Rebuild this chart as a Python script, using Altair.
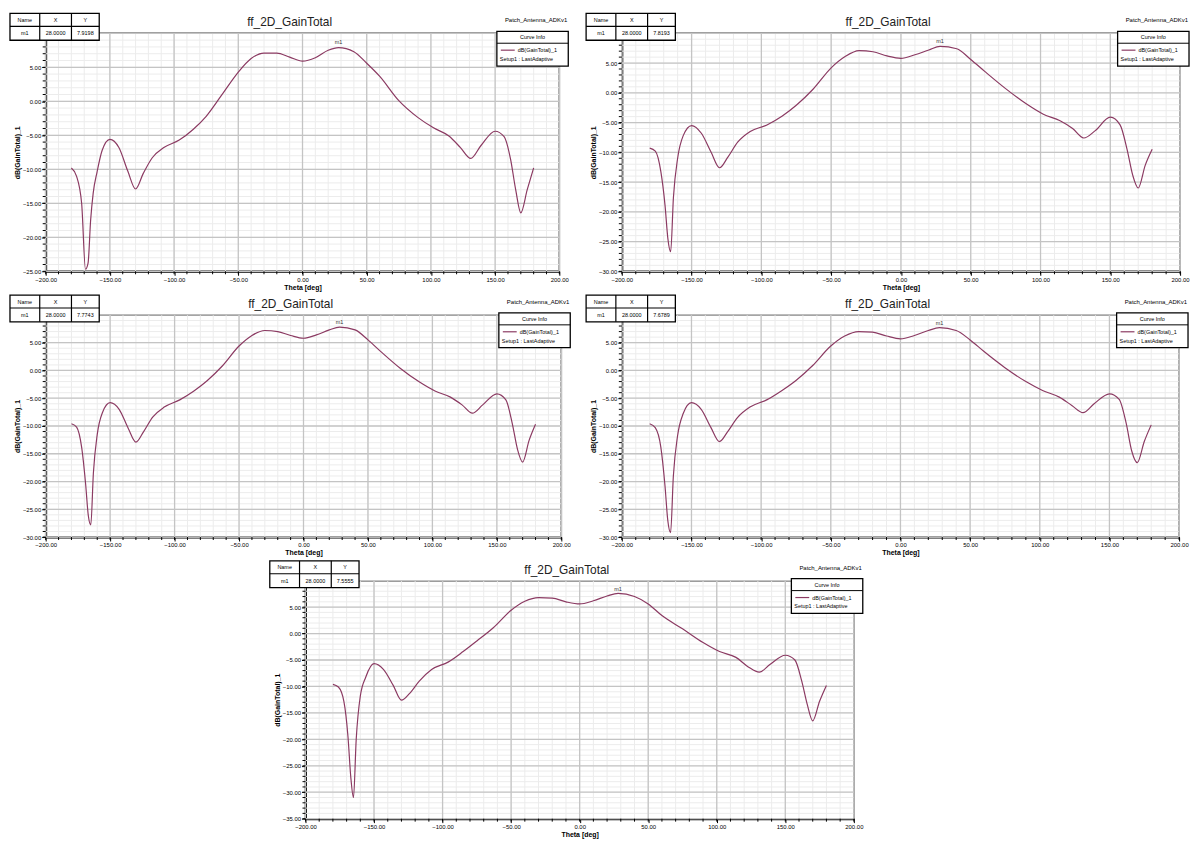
import altair as alt
import pandas as pd

# ---------------- data ----------------
theta = [-180, -176, -172, -169, -167, -165, -163, -160, -156, -150,
         -143, -136, -130, -124, -117, -108, -96, -85, -75, -63,
         -50, -40, -30, -20, -10, 0, 10, 20, 28, 40,
         50, 60, 75, 90, 102, 114, 123, 131, 139, 150,
         157, 162, 166, 170, 175, 180]

gain_1 = [-9.8, -11.0, -15.0, -24.7, -23.8, -17.5, -13.5, -10.4, -7.2, -5.6,
          -6.8, -10.3, -12.9, -10.6, -8.3, -6.8, -5.7, -4.1, -2.2, 0.9,
          4.3, 6.3, 7.1, 7.1, 6.5, 5.9, 6.4, 7.5, 7.9, 7.3,
          5.6, 3.7, 0.1, -2.4, -3.9, -5.1, -6.8, -8.4, -6.5, -4.4,
          -5.2, -8.5, -13.0, -16.4, -13.0, -9.8]

gain_2 = [-9.3, -9.8, -13.3, -19.0, -24.5, -26.7, -17.5, -11.0, -7.2, -5.5,
          -6.8, -10.0, -12.6, -10.8, -8.3, -6.5, -5.4, -3.9, -2.1, 0.6,
          4.2, 6.1, 7.1, 6.9, 6.2, 5.8, 6.4, 7.2, 7.8, 7.4,
          5.6, 3.6, 0.7, -1.9, -3.6, -4.7, -6.0, -7.6, -6.4, -4.1,
          -5.4, -9.5, -13.8, -16.0, -12.2, -9.5]

gain_3 = [-9.6, -10.2, -14.0, -20.5, -26.0, -27.8, -18.5, -11.5, -7.6, -5.8,
          -7.0, -10.4, -12.9, -11.0, -8.4, -6.6, -5.3, -3.7, -1.9, 0.8,
          4.4, 6.3, 7.2, 7.0, 6.3, 5.8, 6.4, 7.3, 7.8, 7.3,
          5.5, 3.4, 0.4, -2.1, -3.7, -4.8, -6.2, -7.7, -6.2, -4.2,
          -5.3, -9.6, -14.2, -16.5, -12.6, -9.7]

gain_4 = [-9.6, -10.3, -13.8, -20.8, -27.0, -29.2, -19.0, -11.8, -7.8, -5.8,
          -7.0, -10.3, -12.8, -11.0, -8.5, -6.6, -5.3, -3.6, -1.8, 0.9,
          4.4, 6.2, 7.0, 6.9, 6.2, 5.7, 6.3, 7.2, 7.7, 7.2,
          5.5, 3.4, 0.5, -2.0, -3.6, -4.8, -6.3, -7.6, -6.0, -4.2,
          -5.2, -9.5, -14.5, -16.6, -12.8, -9.8]

gain_5 = [-9.6, -10.1, -12.8, -19.5, -27.0, -31.0, -20.0, -11.8, -8.2, -5.7,
          -6.8, -9.8, -12.6, -11.3, -9.0, -6.8, -5.4, -3.4, -1.4, 1.1,
          4.4, 6.1, 6.8, 6.7, 6.0, 5.6, 6.2, 7.1, 7.6, 7.0,
          5.6, 3.4, 0.9, -1.7, -3.4, -4.5, -6.3, -7.3, -5.8, -4.1,
          -5.0, -9.0, -13.4, -16.5, -12.8, -9.8]

y_bottom = [-25, -30, -30, -30, -35]
marker_x = 28.0
marker_y = [7.9198, 7.8193, 7.7743, 7.6789, 7.5555]

x_major = [-200, -150, -100, -50, 0, 50, 100, 150, 200]
x_minor = list(range(-200, 201, 10))
y_major_all = [-35, -30, -25, -20, -15, -10, -5, 0, 5, 10]
y_minor_all = list(range(-35, 11))

title_text = "ff_2D_GainTotal"
design_text = "Patch_Antenna_ADKv1"
x_title = "Theta [deg]"
y_title = "dB(GainTotal)_1"
curve_name = "dB(GainTotal)_1"
setup_name = "Setup1 : LastAdaptive"

# ---------------- style ----------------
FONT = "Liberation Sans"
LINE = "#8b3a62"
MINOR = "#ececec"
MAJOR = "#c4c4c4"
ONE = pd.DataFrame({"k": [0]})


def box(x0, x1, y0, y1, sw=1.3):
    return alt.Chart(ONE).mark_rect(fill="white", stroke="black", strokeWidth=sw).encode(
        x=alt.value(x0), x2=alt.value(x1), y=alt.value(y0), y2=alt.value(y1))


def seg(x0, x1, y0, y1, color="black", sw=1.0):
    return alt.Chart(ONE).mark_rule(color=color, strokeWidth=sw).encode(
        x=alt.value(x0), x2=alt.value(x1), y=alt.value(y0), y2=alt.value(y1))


def label(txt, x, y, size=6.0, align="center", color="black"):
    return alt.Chart(ONE).mark_text(text=txt, fontSize=size, align=align, baseline="middle",
                                    font=FONT, color=color).encode(x=alt.value(x), y=alt.value(y))


def panel(gain, ymin, my, W, H):
    xs = alt.Scale(domain=[-200, 200], nice=False, zero=False)
    ys = alt.Scale(domain=[ymin, 10], nice=False, zero=False)
    ymaj = [v for v in y_major_all if v >= ymin]
    ymin_l = [v for v in y_minor_all if v >= ymin]
    ylab = [v for v in ymaj if v < 10]

    xax = alt.Axis(values=x_major, format=".2f", title=x_title, grid=False,
                   tickSize=4, labelFontSize=6, titleFontSize=7, labelPadding=1,
                   titlePadding=1, labelFlush=False)
    yax = alt.Axis(values=ylab, format=".2f", title=y_title, grid=False,
                   tickSize=4, labelFontSize=6, titleFontSize=7, labelPadding=1,
                   titlePadding=2)

    def X(f):
        return alt.X(f, scale=xs, axis=xax)

    def Y(f):
        return alt.Y(f, scale=ys, axis=yax)

    g_xmin = alt.Chart(pd.DataFrame({"theta": x_minor})).mark_rule(color=MINOR, strokeWidth=1).encode(
        x=X("theta:Q"))
    g_ymin = alt.Chart(pd.DataFrame({"gain": ymin_l})).mark_rule(color=MINOR, strokeWidth=1).encode(
        y=Y("gain:Q"))
    g_xmaj = alt.Chart(pd.DataFrame({"theta": x_major})).mark_rule(color=MAJOR, strokeWidth=1.3).encode(
        x=X("theta:Q"))
    g_ymaj = alt.Chart(pd.DataFrame({"gain": ymaj})).mark_rule(color=MAJOR, strokeWidth=1.3).encode(
        y=Y("gain:Q"))

    df = pd.DataFrame({"theta": theta, "gain": gain})
    line = alt.Chart(df).mark_line(color=LINE, strokeWidth=1.2, interpolate="monotone", clip=True).encode(
        x=X("theta:Q"), y=Y("gain:Q"))

    mk = alt.Chart(pd.DataFrame({"theta": [marker_x], "gain": [my]})).mark_text(
        text="m1", fontSize=5.5, dy=-5, font=FONT, color="#333333").encode(
        x=X("theta:Q"), y=Y("gain:Q"))

    t_y = alt.Chart(pd.DataFrame({"gain": ymin_l})).mark_rule(color="black", strokeWidth=1).encode(
        y=Y("gain:Q"), x=alt.value(-3), x2=alt.value(0))
    t_x = alt.Chart(pd.DataFrame({"theta": x_minor})).mark_rule(color="black", strokeWidth=1).encode(
        x=X("theta:Q"), y=alt.value(H), y2=alt.value(H + 3))

    # marker table
    table = [
        box(-36, 54, -20, 7),
        seg(-36, 54, -7, -7, sw=1.2),
        seg(-6, -6, -20, 7, sw=1.2),
        seg(26, 26, -20, 7, sw=1.2),
        label("Name", -21, -13.5, 5.5),
        label("X", 10, -13.5, 5.5),
        label("Y", 40, -13.5, 5.5),
        label("m1", -21, 0, 5.5),
        label("%.4f" % marker_x, 10, 0, 5.5),
        label("%.4f" % my, 40, 0, 5.5),
    ]
    # legend box
    legend = [
        box(W - 63, W + 9, -2, 33),
        seg(W - 63, W + 9, 10, 10, sw=1.0),
        label("Curve Info", W - 27, 4, 5.5),
        seg(W - 59, W - 45, 17, 17, color=LINE, sw=1.2),
        label(curve_name, W - 42, 17, 5.5, align="left"),
        label(setup_name, W - 60, 26, 5.5, align="left"),
    ]
    texts = [
        label(title_text, W / 2 - 13, -11, 12, color="#222222"),
        label(design_text, W + 8, -13, 6, align="right"),
    ]
    layers = [g_xmin, g_ymin, g_xmaj, g_ymaj, line, mk, t_y, t_x] + table + legend + texts
    return alt.layer(*layers).properties(width=W, height=H)


p1 = panel(gain_1, y_bottom[0], marker_y[0], 518, 240)
p2 = panel(gain_2, y_bottom[1], marker_y[1], 563, 240)
p3 = panel(gain_3, y_bottom[2], marker_y[2], 520, 224)
p4 = panel(gain_4, y_bottom[3], marker_y[3], 562, 224)
p5 = panel(gain_5, y_bottom[4], marker_y[4], 553, 240)

spacer = alt.Chart(ONE).mark_point(opacity=0).encode(x=alt.value(0), y=alt.value(0)).properties(
    width=223, height=20, view=alt.ViewBackground(stroke="transparent"))

row1 = alt.hconcat(p1, p2, spacing=14)
row2 = alt.hconcat(p3, p4, spacing=12)
row3 = alt.hconcat(spacer, p5, spacing=0)

chart = alt.vconcat(row1, row2, row3, spacing=2).properties(
    padding=0, background="white"
).configure_view(
    stroke="black", strokeWidth=1.5
).configure_axis(
    labelFont=FONT, titleFont=FONT, domainColor="black", domainWidth=2,
    tickColor="black", labelColor="black", titleColor="black", titleFontWeight="bold"
)

chart.save("out.html", embed_options={"renderer": "svg", "actions": False})
